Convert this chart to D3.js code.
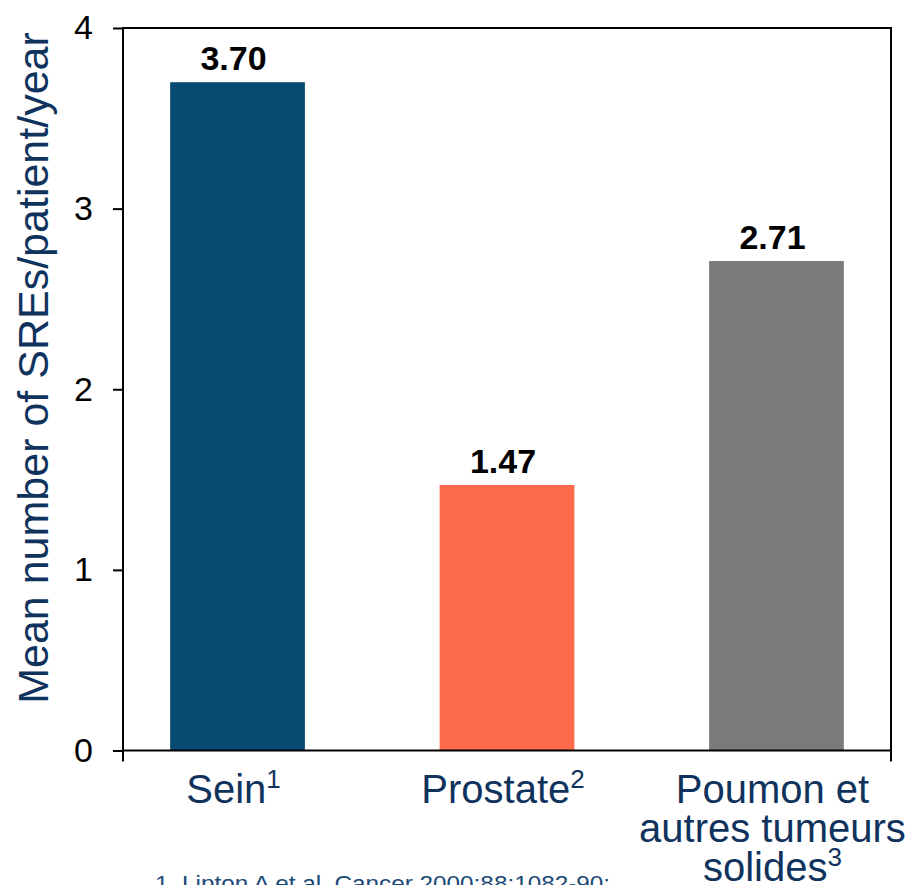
<!DOCTYPE html>
<html>
<head>
<meta charset="utf-8">
<script src="https://cdn.jsdelivr.net/npm/d3@7"></script>
<style>
  html, body { margin: 0; padding: 0; background: #fff; }
  svg { display: block; }
  text { font-family: "Liberation Sans", Arial, sans-serif; }
</style>
</head>
<body>
<div id="chart"></div>
<script>
// Mean number of skeletal-related events per patient per year, by tumour type
const categories = ["Sein", "Prostate", "Poumon"];
const labelLines = [["Sein"], ["Prostate"], ["Poumon et", "autres tumeurs", "solides"]];
const refMarks = ["1", "2", "3"];
const values = [3.70, 1.47, 2.71];
const barColors = ["#084b72", "#fe6a4c", "#7b7b7c"];
const yTicks = [0, 1, 2, 3, 4];
const yTitle = "Mean number of SREs/patient/year";
const footnote = "1. Lipton A et al. Cancer 2000;88:1082-90;";

const W = 909, H = 885;
const plot = { left: 123, right: 891, top: 28, bottom: 750.5 };
const navy = "#10335e";

const svg = d3.select("#chart").append("svg")
  .attr("width", W).attr("height", H);

const x = d3.scaleBand()
  .domain(categories)
  .range([plot.left, plot.right])
  .paddingInner(0.5)
  .paddingOuter(0.175);

const y = d3.scaleLinear()
  .domain([0, 4])
  .range([plot.bottom, plot.top]);

// bars
svg.append("g").selectAll("rect")
  .data(values)
  .join("rect")
  .attr("x", (d, i) => x(categories[i]))
  .attr("width", x.bandwidth())
  .attr("y", d => y(d))
  .attr("height", d => y(0) - y(d))
  .attr("fill", (d, i) => barColors[i]);

// value labels
svg.append("g").selectAll("text")
  .data(values)
  .join("text")
  .attr("x", (d, i) => x(categories[i]) + x.bandwidth() / 2 - 4)
  .attr("y", d => y(d) - 12)
  .attr("text-anchor", "middle")
  .attr("font-size", 34)
  .attr("font-weight", "bold")
  .attr("fill", "#000")
  .text(d => d.toFixed(2));

// left axis
const yAxis = svg.append("g")
  .attr("transform", `translate(${plot.left},0)`)
  .call(d3.axisLeft(y).tickValues(yTicks).tickFormat(d3.format("d")).tickSize(10).tickPadding(20));
yAxis.select(".domain").remove();
yAxis.selectAll(".tick line").attr("stroke", "#000").attr("stroke-width", 2);
yAxis.selectAll(".tick text")
  .attr("font-size", 34)
  .attr("fill", "#000")
  .attr("font-family", "Liberation Sans, Arial, sans-serif");

// plot frame
svg.append("rect")
  .attr("x", plot.left).attr("y", plot.top)
  .attr("width", plot.right - plot.left)
  .attr("height", plot.bottom - plot.top)
  .attr("fill", "none")
  .attr("stroke", "#000")
  .attr("stroke-width", 2);

// small ticks at both ends of the category axis
svg.append("g").selectAll("line")
  .data([plot.left, plot.right])
  .join("line")
  .attr("x1", d => d).attr("x2", d => d)
  .attr("y1", plot.bottom).attr("y2", plot.bottom + 11)
  .attr("stroke", "#000").attr("stroke-width", 2);

// y title
svg.append("text")
  .attr("transform", `translate(48,368) rotate(-90)`)
  .attr("text-anchor", "middle")
  .attr("font-size", 43)
  .attr("fill", navy)
  .text(yTitle);

// category labels with reference marks
const catG = svg.append("g");
labelLines.forEach((lines, i) => {
  const cx = x(categories[i]) + x.bandwidth() / 2 - 4;
  lines.forEach((line, j) => {
    const t = catG.append("text")
      .attr("x", cx)
      .attr("y", 803 + j * 39)
      .attr("text-anchor", "middle")
      .attr("font-size", 40)
      .attr("fill", navy);
    t.append("tspan").text(line);
    if (j === lines.length - 1) {
      t.append("tspan")
        .attr("font-size", 26)
        .attr("dy", -15)
        .text(refMarks[i]);
    }
  });
});

// footnote
svg.append("text")
  .attr("x", 155)
  .attr("y", 891)
  .attr("font-size", 22)
  .attr("font-family", "Open Sans, sans-serif")
  .attr("fill", "#1b4a78")
  .attr("textLength", 455)
  .attr("lengthAdjust", "spacingAndGlyphs")
  .text(footnote);
</script>
</body>
</html>
